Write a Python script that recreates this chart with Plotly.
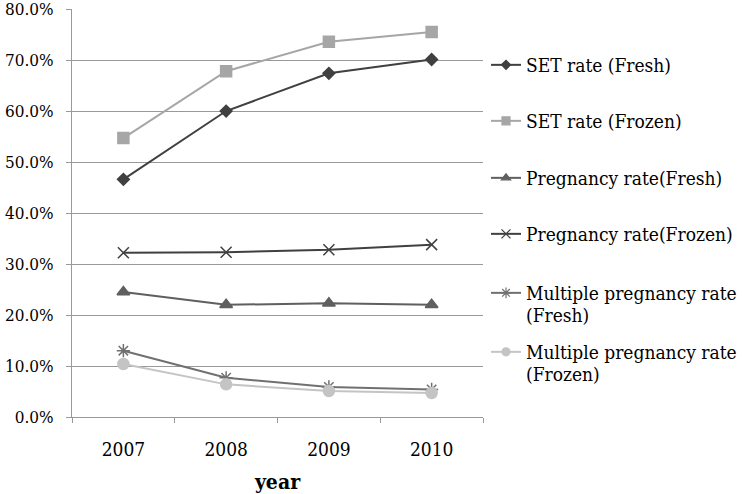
import plotly.graph_objects as go

# data (percent)
years = ["2007", "2008", "2009", "2010"]
set_fresh = [46.6, 60.0, 67.4, 70.1]
set_frozen = [54.7, 67.8, 73.6, 75.5]
preg_fresh = [24.5, 22.0, 22.3, 22.0]
preg_frozen = [32.2, 32.3, 32.8, 33.8]
multi_fresh = [13.0, 7.7, 5.9, 5.4]
multi_frozen = [10.4, 6.4, 5.1, 4.7]

names = ["SET rate (Fresh)", "SET rate (Frozen)", "Pregnancy rate(Fresh)",
         "Pregnancy rate(Frozen)", "Multiple pregnancy rate",
         "Multiple pregnancy rate"]
second_lines = ["", "", "", "", "(Fresh)", "(Frozen)"]
series = [set_fresh, set_frozen, preg_fresh, preg_frozen, multi_fresh, multi_frozen]
colors = ["#404040", "#a6a6a6", "#5f5f5f", "#404040", "#707070", "#c4c4c4"]
symbols = ["diamond", "square", "triangle-up", "x-thin-open", "asterisk-open", "circle"]
sizes = [9, 11, 11, 11, 11, 11]
legend_sizes = [7, 8, 8, 9, 9, 8]

FONT = "DejaVu Serif Condensed"
# plot area in pixels
L, R, T, B = 72, 483, 9, 417
W, H = 742, 494
legend_y_px = [65, 121, 178, 234, 293, 352]


def px_x(x):
    return (x - L) / (R - L)


def px_y(y):
    return (B - y) / (B - T)


fig = go.Figure()
for i in range(len(series)):
    leg = "legend" if i == 0 else "legend%d" % (i + 1)
    fig.add_trace(go.Scatter(
        x=years, y=[v / 100 for v in series[i]],
        name=names[i], showlegend=False,
        mode="lines+markers",
        line=dict(color=colors[i], width=2),
        marker=dict(symbol=symbols[i], size=sizes[i], color=colors[i],
                    line=dict(color=colors[i], width=1.5)),
    ))
    # legend entry with smaller marker, as in the original
    fig.add_trace(go.Scatter(
        x=[None], y=[None], name=names[i], legend=leg, showlegend=True,
        mode="lines+markers",
        line=dict(color=colors[i], width=2),
        marker=dict(symbol=symbols[i], size=legend_sizes[i], color=colors[i],
                    line=dict(color=colors[i], width=1.2)),
    ))
    fig.update_layout({leg: dict(
        x=px_x(486), xanchor="left", y=px_y(legend_y_px[i]), yanchor="middle",
        font=dict(family=FONT, size=19, color="black"),
        bgcolor="rgba(0,0,0,0)",
    )})
    if second_lines[i]:
        fig.add_annotation(
            text=second_lines[i], xref="paper", yref="paper",
            x=px_x(524), y=px_y(legend_y_px[i] + 22),
            xanchor="left", yanchor="middle", showarrow=False,
            font=dict(family=FONT, size=19, color="black"),
        )

fig.update_layout(
    width=W, height=H, showlegend=True,
    margin=dict(l=L, r=W - R, t=T, b=H - B, autoexpand=False),
    paper_bgcolor="white", plot_bgcolor="white",
    font=dict(family=FONT, size=18, color="black"),
)
fig.update_xaxes(
    type="category", tickson="boundaries", ticks="outside", ticklen=5,
    tickcolor="#999", showline=True, linecolor="#999", linewidth=1,
    showgrid=False, tickfont=dict(size=19), ticklabelstandoff=15,
    automargin=False, range=[-0.5, 3.5],
    title=dict(text="<b>year</b>", font=dict(size=21), standoff=18),
)
fig.update_yaxes(
    range=[0, 0.8001], dtick=0.1, tickformat=".1%", ticks="outside", ticklen=5,
    tickcolor="#999", showline=True, linecolor="#999", linewidth=1,
    showgrid=True, gridcolor="#999", gridwidth=1, zeroline=False,
    tickfont=dict(size=17), ticklabelstandoff=9, automargin=False,
    ticklabeloverflow="allow",
)

fig.write_html("out.html", config={"displayModeBar": False},
               post_script="document.body.style.margin='0';")
